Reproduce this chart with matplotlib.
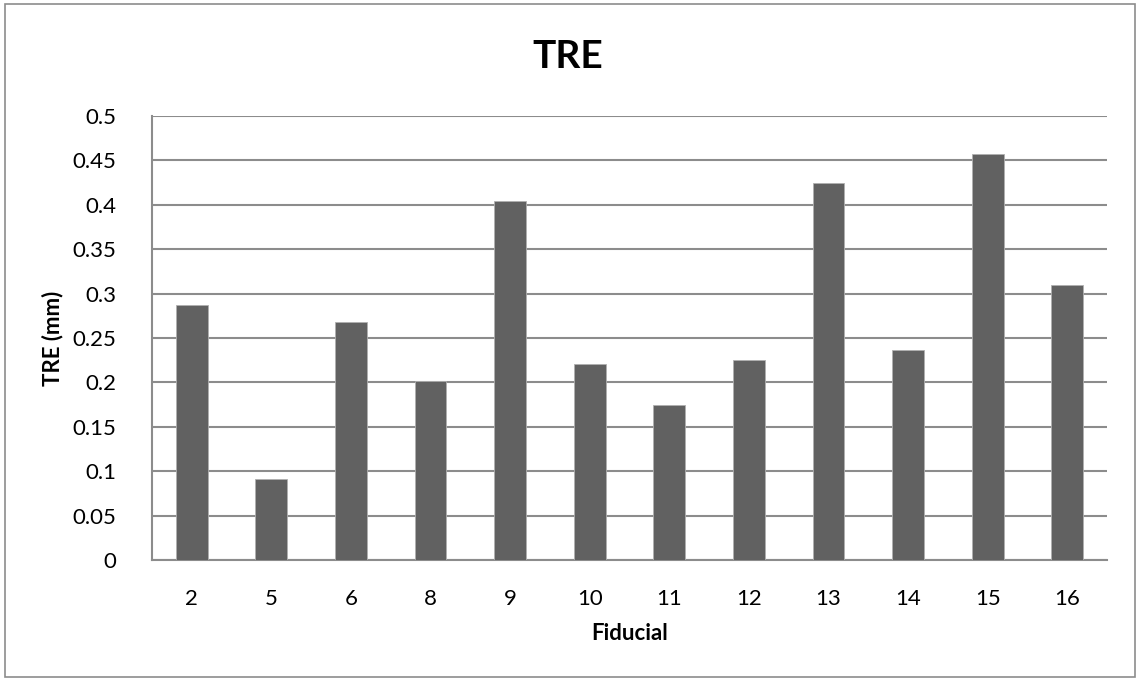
import matplotlib.pyplot as plt
from matplotlib.patches import Rectangle

fiducials = ["2", "5", "6", "8", "9", "10", "11", "12", "13", "14", "15", "16"]
tre_mm = [0.287, 0.091, 0.268, 0.202, 0.404, 0.221, 0.174, 0.225, 0.425, 0.236, 0.457, 0.310]
yticks = [0, 0.05, 0.1, 0.15, 0.2, 0.25, 0.3, 0.35, 0.4, 0.45, 0.5]
ytick_labels = ["0", "0.05", "0.1", "0.15", "0.2", "0.25", "0.3", "0.35", "0.4", "0.45", "0.5"]

plt.rcParams["font.family"] = ["Lato", "DejaVu Sans"]

fig = plt.figure(figsize=(11.36, 6.81), dpi=100)
ax = fig.add_axes([0.1338, 0.1777, 0.8407, 0.652])

# outer chart border
fig.patches.append(Rectangle((0.004, 0.006), 0.995, 0.988, transform=fig.transFigure,
                             fill=False, edgecolor="#8c8c8c", linewidth=1.2))

x = range(len(fiducials))
ax.bar(x, tre_mm, width=0.4, color="#616161", edgecolor="#b0b0b0", linewidth=0.6, zorder=3)

ax.set_xlim(-0.5, len(fiducials) - 0.5)
ax.set_ylim(0, 0.5)
ax.set_yticks(yticks)
ax.set_yticklabels(ytick_labels)
ax.set_xticks(list(x))
ax.set_xticklabels(fiducials)
ax.tick_params(axis="both", length=0, labelsize=16, colors="black")
ax.tick_params(axis="y", pad=26)
ax.tick_params(axis="x", pad=21)

ax.grid(axis="y", color="#8c8c8c", linewidth=1.5, zorder=0)
for s in ["top", "right"]:
    ax.spines[s].set_visible(False)
for s in ["left", "bottom"]:
    ax.spines[s].set_color("#8c8c8c")
    ax.spines[s].set_linewidth(1.5)

ax.set_xlabel("Fiducial", fontsize=16, fontweight="bold")
ax.set_ylabel("TRE (mm)", fontsize=16, fontweight="bold")
ax.xaxis.set_label_coords(0.5, -0.143)
ax.yaxis.set_label_coords(-0.093, 0.5)
fig.text(0.5, 0.8997, "TRE", ha="center", va="baseline", fontsize=28, fontweight="bold")

fig.savefig("out.png", dpi=100)
